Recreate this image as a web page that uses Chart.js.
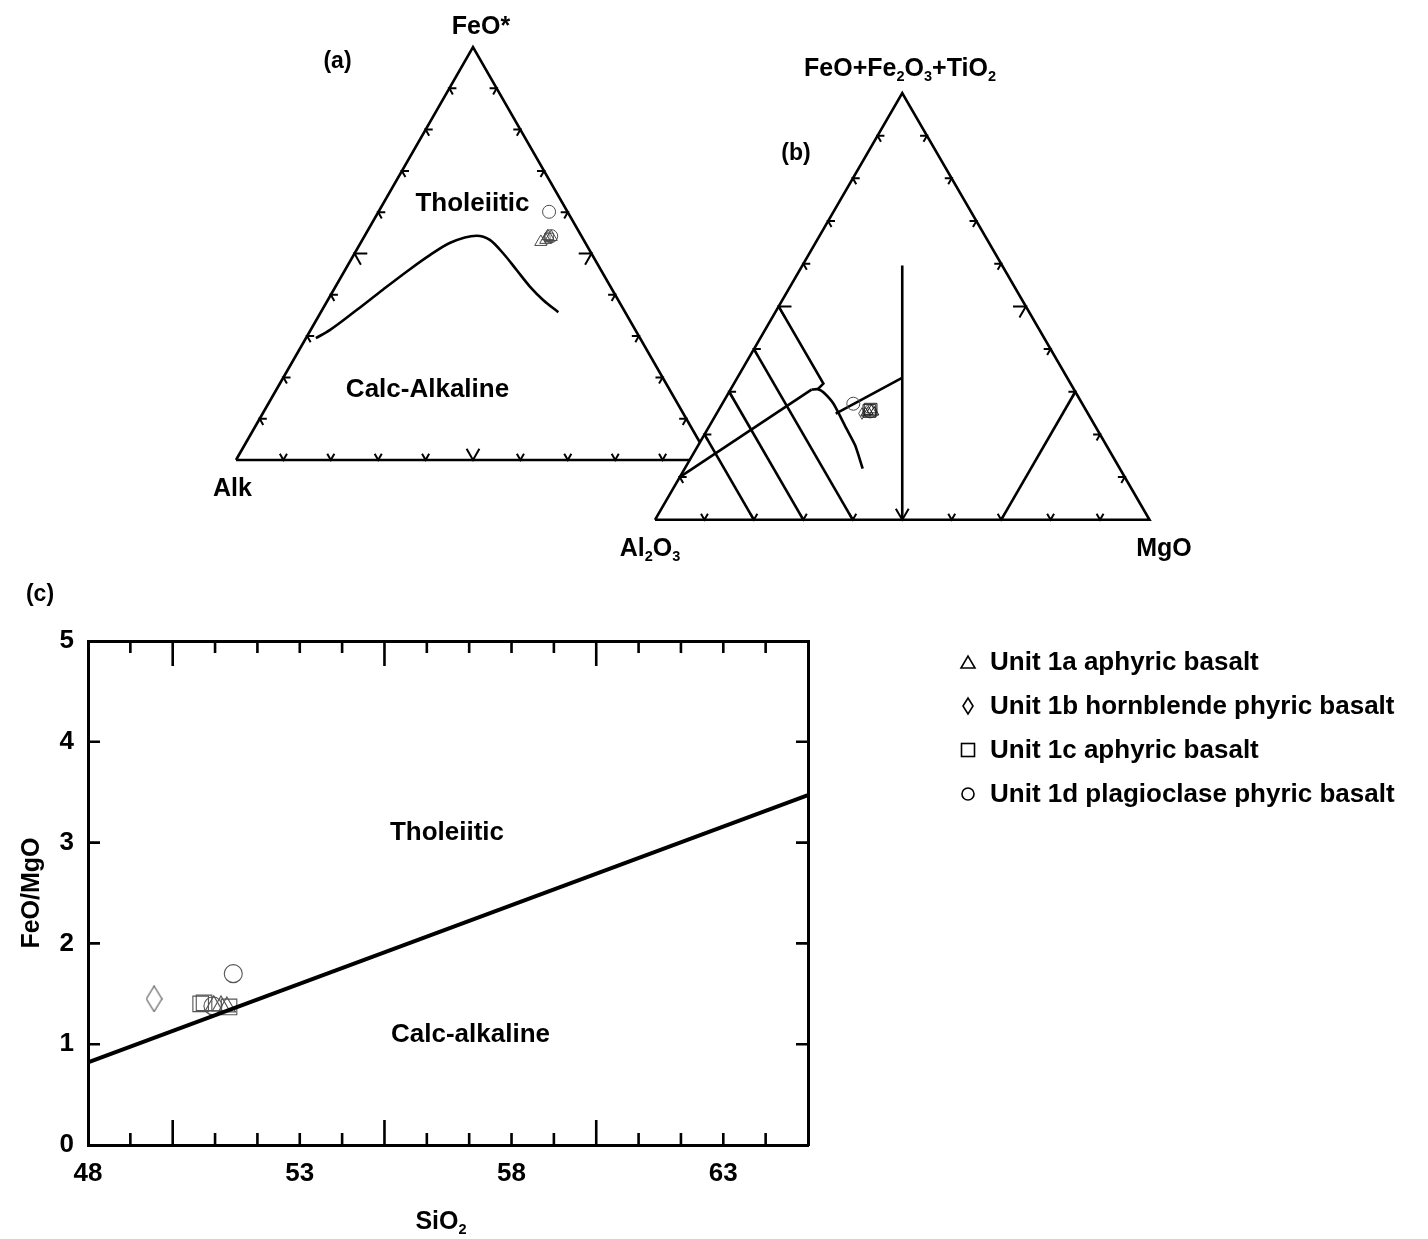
<!DOCTYPE html>
<html><head><meta charset="utf-8">
<script src="https://cdn.jsdelivr.net/npm/chart.js@4.4.1/dist/chart.umd.min.js"></script>
<style>
html,body{margin:0;padding:0;background:#fff;}
#wrap{position:relative;width:1428px;height:1239px;overflow:hidden;font-family:'Liberation Sans',Arial,Helvetica,sans-serif;font-weight:bold;color:#000;background:#fff;}
canvas{position:absolute;}
.lbl{position:absolute;white-space:nowrap;font-weight:bold;z-index:5;}
.lbl sub{font-size:0.58em;vertical-align:baseline;position:relative;top:0.32em;}
#legsvg{position:absolute;left:0;top:0;z-index:5;}
</style></head>
<body><div id="wrap">
<canvas id="cA" width="514" height="453" style="left:216px;top:27px;z-index:1"></canvas>
<canvas id="cB" width="535" height="467" style="left:635px;top:73px;z-index:2"></canvas>
<canvas id="cC" width="830" height="639" style="left:0px;top:600px;z-index:1"></canvas>
<svg id="legsvg" width="1428" height="1239"></svg>
</div>
<script>
const FONT = "'Liberation Sans', Arial, Helvetica, sans-serif";

// ---------------- Panel (a): AFM ternary (FeO* top, Alk left, MgO right) ----------------
const afmTickPercents = [10, 20, 30, 40, 50, 60, 70, 80, 90];
const afmCurveF = [29.5, 31.5, 36.3, 41.3, 46.2, 49.6, 52.6, 54.3, 53.3, 50.0, 46.0, 42.0, 38.7, 35.8];
const afmCurveA = [68.4, 64.4, 56.4, 48.3, 40.2, 34.3, 28.5, 22.1, 19.8, 18.6, 17.8, 17.0, 15.8, 14.1];
const afmCurveM = [2.1, 4.1, 7.3, 10.4, 13.6, 16.1, 18.9, 23.6, 26.9, 31.4, 36.2, 41.0, 45.5, 50.1];
const afm1aF = [54.2, 54.0, 52.8, 53.3], afm1aA = [7.1, 6.5, 9.3, 8.0], afm1aM = [38.7, 39.5, 37.9, 38.7];
const afm1bF = [53.8], afm1bA = [7.5], afm1bM = [38.7];
const afm1cF = [53.9], afm1cA = [7.0], afm1cM = [39.1];
const afm1dF = [60.1, 54.2], afm1dA = [3.9, 6.4], afm1dM = [36.0, 39.4];

// ---------------- Panel (b): Jensen cation ternary [Al2O3, FeO+Fe2O3+TiO2, MgO] ----------------
const jenTickPercents = [10, 20, 30, 40, 50, 60, 70, 80, 90];
const jenLine80 = [[80, 20, 0], [80, 0, 20]];
const jenLine70 = [[70, 30, 0], [70, 0, 30]];
const jenLine60 = [[60, 40, 0], [60, 0, 40]];
const jenLine50 = [[50, 50, 0], [50, 31.9, 18.1], [51.8, 30.6, 17.6]];
const jenDiag   = [[90, 10, 0], [53.1, 30.5, 16.4]];
const jenCurve  = [[53.1, 30.5, 16.4], [51.8, 30.6, 17.6], [51.0, 29.9, 19.1], [50.3, 27.2, 22.5], [50.6, 21.4, 28.0], [50.8, 17.5, 31.7], [52.0, 12.0, 36.0]];
const jenCentre = [[33.3, 33.3, 33.4], [51.0, 24.9, 24.1]];
const jenVertical = [[20.2, 59.6, 20.2], [50, 0, 50]];
const jenRight  = [[30, 0, 70], [0, 30, 70]];
const jen1aL = [44.2, 43.4, 44.9, 43.1], jen1aT = [25.3, 25.7, 25.0, 25.2], jen1aR = [30.5, 30.9, 30.1, 31.7];
const jen1bL = [45.7], jen1bT = [24.9], jen1bR = [29.4];
const jen1cL = [43.5, 43.9], jen1cT = [25.8, 25.5], jen1cR = [30.7, 30.6];
const jen1dL = [46.3, 43.8], jen1dT = [27.2, 25.4], jen1dR = [26.5, 30.8];

// ---------------- Panel (c): FeO/MgO vs SiO2 ----------------
const sio2TickLabels = [48, 53, 58, 63];
const sio2MinorTicks = [49, 50, 51, 52, 53, 54, 55, 56, 57, 58, 59, 60, 61, 62, 63, 64];
const sio2LongTicks = [50, 55, 60];
const ratioTickLabels = [0, 1, 2, 3, 4, 5];
const ratioMinorTicks = [1, 2, 3, 4];
const divideSiO2 = [48, 65], divideRatio = [0.82, 3.47];
const c1aSiO2 = [50.97, 51.14, 51.28], c1aRatio = [1.38, 1.38, 1.37];
const c1bSiO2 = [49.56], c1bRatio = [1.45];
const c1cSiO2 = [50.66, 50.74, 51.33], c1cRatio = [1.40, 1.41, 1.37];
const c1dSiO2 = [51.43, 50.95], c1dRatio = [1.70, 1.38];

// ---------------- helpers ----------------
function tern(l, t, r) { const s = l + t + r; return { x: (r + t / 2) / s, y: t / s }; }
function ternSeries(Ls, Ts, Rs) { return Ls.map((l, i) => tern(l, Ts[i], Rs[i])); }
function ternTriplets(arr) { return arr.map(p => tern(p[0], p[1], p[2])); }
function xySeries(xs, ys) { return xs.map((x, i) => ({ x: x, y: ys[i] })); }
const GAP = { x: 0, y: null };
function ternTicks(percents, dS, dB) {
  const pts = [];
  percents.forEach(k => {
    const d = k === 50 ? dB : dS;
    pts.push(tern(100 - k - d, d, k), tern(100 - k, 0, k), tern(100 - k, d, k - d), GAP);
    pts.push(tern(100 - k - d, k, d), tern(100 - k, k, 0), tern(100 - k, k - d, d), GAP);
    pts.push(tern(d, k, 100 - k - d), tern(0, k, 100 - k), tern(d, k - d, 100 - k), GAP);
  });
  return pts;
}
const outline = [tern(100, 0, 0), tern(0, 100, 0), tern(0, 0, 100), tern(100, 0, 0)];
function lineDS(points, width, extra) {
  return Object.assign({ data: points, showLine: true, borderColor: '#000', borderWidth: width, pointRadius: 0,
    pointHoverRadius: 0, fill: false, tension: 0, clip: false, borderCapStyle: 'butt', borderJoinStyle: 'miter' }, extra || {});
}
function markDS(points, style, radius, color, lw) {
  return { data: points, showLine: false, pointStyle: style, pointRadius: radius, pointHoverRadius: radius,
    pointBorderColor: color, pointBackgroundColor: 'rgba(0,0,0,0)', pointBorderWidth: lw, clip: false };
}
function diamondCanvas(w, h, color, lw) {
  const c = document.createElement('canvas'); c.width = w; c.height = h;
  const g = c.getContext('2d'); g.strokeStyle = color; g.lineWidth = lw;
  g.beginPath(); g.moveTo(w / 2, 0.7); g.lineTo(w - 0.7, h / 2); g.lineTo(w / 2, h - 0.7); g.lineTo(0.7, h / 2); g.closePath(); g.stroke();
  return c;
}
const whiteTriangle = {
  id: 'whiteTriangle',
  beforeDatasetsDraw(chart) {
    const { ctx } = chart; const xs = chart.scales.x, ys = chart.scales.y;
    ctx.save(); ctx.fillStyle = '#fff'; ctx.beginPath();
    outline.forEach((p, i) => { const px = xs.getPixelForValue(p.x), py = ys.getPixelForValue(p.y); i ? ctx.lineTo(px, py) : ctx.moveTo(px, py); });
    ctx.closePath(); ctx.fill(); ctx.restore();
  }
};
function ternaryChart(id, pad, datasets, plugins) {
  return new Chart(document.getElementById(id), {
    type: 'scatter', data: { datasets: datasets },
    options: {
      responsive: false, animation: false, events: [], layout: { padding: pad },
      plugins: { legend: { display: false }, tooltip: { enabled: false } },
      scales: { x: { type: 'linear', min: 0, max: 1, display: false }, y: { type: 'linear', min: 0, max: 1, display: false } }
    },
    plugins: plugins || []
  });
}
const GREY = '#4a4a4a';

// ---------------- Chart (a) ----------------
ternaryChart('cA', { left: 20, right: 20, top: 20, bottom: 20 }, [
  markDS(ternSeries(afm1dA, afm1dF, afm1dM), 'circle', 6.5, GREY, 1),
  markDS(ternSeries(afm1cA, afm1cF, afm1cM), 'rect', 6, GREY, 1),
  markDS(ternSeries(afm1bA, afm1bF, afm1bM), diamondCanvas(9, 15, GREY, 1), 5, GREY, 1),
  markDS(ternSeries(afm1aA, afm1aF, afm1aM), 'triangle', 7, GREY, 1),
  lineDS(ternSeries(afmCurveA, afmCurveF, afmCurveM), 2.6, { cubicInterpolationMode: 'monotone' }),
  lineDS(ternTicks(afmTickPercents, 1.5, 2.7), 2, { spanGaps: false }),
  lineDS(outline, 2.6)
]);

// ---------------- Chart (b) ----------------
ternaryChart('cB', { left: 20, right: 20.5, top: 20, bottom: 20.2 }, [
  markDS(ternSeries(jen1aL, jen1aT, jen1aR), 'triangle', 5.5, '#222', 1),
  markDS(ternSeries(jen1cL, jen1cT, jen1cR), 'rect', 9, '#222', 1),
  markDS(ternSeries(jen1bL, jen1bT, jen1bR), diamondCanvas(8, 13, GREY, 1), 5, GREY, 1),
  markDS(ternSeries(jen1dL, jen1dT, jen1dR), 'circle', 6.5, GREY, 1),
  lineDS(ternTriplets(jenLine80), 2.6),
  lineDS(ternTriplets(jenLine70), 2.6),
  lineDS(ternTriplets(jenLine60), 2.6),
  lineDS(ternTriplets(jenLine50), 2.6),
  lineDS(ternTriplets(jenDiag), 2.6),
  lineDS(ternTriplets(jenCurve), 2.6, { tension: 0.2 }),
  lineDS(ternTriplets(jenCentre), 2.6),
  lineDS(ternTriplets(jenVertical), 2.6),
  lineDS(ternTriplets(jenRight), 2.6),
  lineDS(ternTicks(jenTickPercents, 1.4, 2.6), 2, { spanGaps: false }),
  lineDS(outline, 2.6)
], [whiteTriangle]);

// ---------------- Chart (c) ----------------
const innerTicks = {
  id: 'innerTicks',
  afterDraw(chart) {
    const { ctx, chartArea: a } = chart; const xs = chart.scales.x, ys = chart.scales.y;
    ctx.save(); ctx.strokeStyle = '#000'; ctx.lineWidth = 2.6; ctx.beginPath();
    sio2MinorTicks.forEach(v => {
      const px = xs.getPixelForValue(v); const len = sio2LongTicks.includes(v) ? 25 : 12;
      ctx.moveTo(px, a.bottom); ctx.lineTo(px, a.bottom - len);
      ctx.moveTo(px, a.top); ctx.lineTo(px, a.top + len);
    });
    ratioMinorTicks.forEach(v => {
      const py = ys.getPixelForValue(v);
      ctx.moveTo(a.left, py); ctx.lineTo(a.left + 12, py);
      ctx.moveTo(a.right, py); ctx.lineTo(a.right - 12, py);
    });
    ctx.stroke(); ctx.restore();
  }
};
const tickFont = { family: FONT, size: 26, weight: 'bold' };
const borderOpt = { display: true, color: '#000', width: 3 };
new Chart(document.getElementById('cC'), {
  type: 'scatter',
  data: { datasets: [
    lineDS(xySeries(divideSiO2, divideRatio), 4),
    markDS(xySeries(c1dSiO2, c1dRatio), 'circle', 9, '#555', 1.1),
    markDS(xySeries(c1cSiO2, c1cRatio), 'rect', 11, '#555', 1.1),
    markDS(xySeries(c1bSiO2, c1bRatio), diamondCanvas(17, 27, '#555', 1.1), 8, '#555', 1.1),
    markDS(xySeries(c1aSiO2, c1aRatio), 'triangle', 10, '#555', 1.1)
  ] },
  options: {
    responsive: false, animation: false, events: [], layout: { padding: 0 },
    plugins: { legend: { display: false }, tooltip: { enabled: false } },
    scales: {
      x: { type: 'linear', position: 'bottom', min: 48, max: 65,
        afterBuildTicks: s => { s.ticks = sio2TickLabels.map(v => ({ value: v })); },
        afterFit: s => { s.height = 94; },
        grid: { display: false, drawTicks: false }, border: borderOpt,
        ticks: { font: tickFont, color: '#000', padding: 13, autoSkip: false, maxRotation: 0 } },
      x2: { type: 'linear', axis: 'x', position: 'top', min: 48, max: 65,
        afterFit: s => { s.height = 41; },
        grid: { display: false, drawTicks: false }, border: borderOpt, ticks: { display: false } },
      y: { type: 'linear', position: 'left', min: 0, max: 5,
        afterBuildTicks: s => { s.ticks = ratioTickLabels.map(v => ({ value: v })); },
        afterFit: s => { s.width = 88; },
        grid: { display: false, drawTicks: false }, border: borderOpt,
        ticks: { font: tickFont, color: '#000', padding: 14 } },
      y2: { type: 'linear', axis: 'y', position: 'right', min: 0, max: 5,
        afterFit: s => { s.width = 22; },
        grid: { display: false, drawTicks: false }, border: borderOpt, ticks: { display: false } }
    }
  },
  plugins: [innerTicks]
});

// ---------------- text labels ----------------
const wrap = document.getElementById('wrap');
function label(html, cx, cy, size, align, rotate) {
  const d = document.createElement('div'); d.className = 'lbl'; d.innerHTML = html;
  d.style.fontSize = size + 'px'; d.style.lineHeight = (size * 1.15) + 'px';
  d.style.fontFamily = FONT;
  if (rotate) {
    d.style.left = cx + 'px'; d.style.top = cy + 'px';
    d.style.transform = 'translate(-50%,-50%) rotate(-90deg)';
  } else {
    d.style.top = (cy - 0.5635 * size) + 'px'; d.style.left = cx + 'px';
    if (align === 'center') d.style.transform = 'translateX(-50%)';
  }
  wrap.appendChild(d);
}
label('FeO*', 481, 25, 25, 'center');
label('(a)', 337.5, 60, 23, 'center');
label('Tholeiitic', 472.5, 202.5, 26, 'center');
label('Calc-Alkaline', 427.5, 389, 26, 'center');
label('Alk', 232.5, 487, 25, 'center');
label('FeO+Fe<sub>2</sub>O<sub>3</sub>+TiO<sub>2</sub>', 900, 67, 25, 'center');
label('(b)', 796, 152, 23, 'center');
label('Al<sub>2</sub>O<sub>3</sub>', 650, 547, 25, 'center');
label('MgO', 1164, 547, 25, 'center');
label('(c)', 40, 593, 23, 'center');
label('Tholeiitic', 447, 832, 26, 'center');
label('Calc-alkaline', 470.5, 1034, 26, 'center');
label('SiO<sub>2</sub>', 441, 1220, 25, 'center');
label('FeO/MgO', 30, 893, 25, 'center', true);

// ---------------- legend ----------------
const legendNames = ['Unit 1a aphyric basalt', 'Unit 1b hornblende phyric basalt', 'Unit 1c aphyric basalt', 'Unit 1d plagioclase phyric basalt'];
const legendY = [662, 706, 750, 794];
legendNames.forEach((n, i) => label(n, 990, legendY[i], 26, 'left'));
const svg = document.getElementById('legsvg');
const ns = 'http://www.w3.org/2000/svg';
function svgEl(tag, attrs) { const e = document.createElementNS(ns, tag); for (const k in attrs) e.setAttribute(k, attrs[k]); e.setAttribute('fill', 'none'); e.setAttribute('stroke', '#000'); e.setAttribute('stroke-width', '1.6'); svg.appendChild(e); }
const lx = 968;
svgEl('polygon', { points: `${lx - 7},${legendY[0] + 6} ${lx + 7},${legendY[0] + 6} ${lx},${legendY[0] - 6}` });
svgEl('polygon', { points: `${lx},${legendY[1] - 8} ${lx + 5},${legendY[1]} ${lx},${legendY[1] + 8} ${lx - 5},${legendY[1]}` });
svgEl('rect', { x: lx - 6.5, y: legendY[2] - 6.5, width: 13, height: 13 });
svgEl('circle', { cx: lx, cy: legendY[3], r: 6 });
</script>
</body></html>
